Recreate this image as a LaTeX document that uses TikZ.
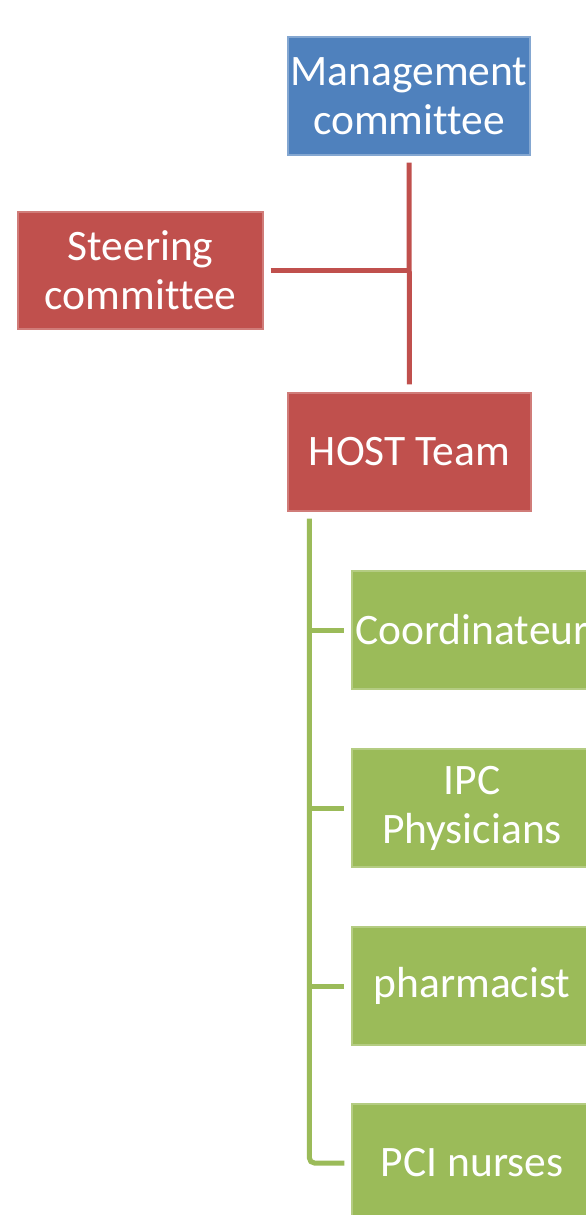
\documentclass[tikz,border=0pt]{standalone}
\usepackage{fontspec}
\setmainfont[Ligatures={NoCommon}]{Carlito}
\definecolor{mblue}{HTML}{4F81BD}
\definecolor{mred}{HTML}{C0504D}
\definecolor{mgreen}{HTML}{9BBB59}
\begin{document}
\begin{tikzpicture}[x=1pt,y=1pt,
  box/.style={rectangle, inner sep=0pt, align=center, text=white,
    font=\fontsize{43.5}{49}\selectfont, line width=1.2pt},
  bluebox/.style={box, fill=mblue, draw=mblue!70!white, minimum width=242pt, minimum height=118pt},
  redbox/.style={box, fill=mred, draw=mred!75!white, minimum width=243pt, minimum height=118pt},
  greenbox/.style={box, fill=mgreen, draw=mgreen!75!white, minimum width=240pt, minimum height=118pt},
  rline/.style={draw=mred, line width=5pt},
  gline/.style={draw=mgreen, line width=5pt}]
\useasboundingbox (0,0) rectangle (586,-1215);
\clip (0,0) rectangle (586,-1215);
\node[bluebox] (mgmt) at (409,-96) {Management\\committee};
\node[redbox, minimum width=245pt, minimum height=117pt] (steer) at (140.5,-270.5) {Steering\\committee};
\node[redbox] (host) at (409.5,-452) {HOST Team};
\node[greenbox] (coord) at (472,-630) {Coordinateur};
\node[greenbox] (ipc) at (472,-808) {IPC\\Physicians};
\node[greenbox] (pharm) at (472,-986) {pharmacist};
\node[greenbox] (pci) at (472,-1163) {PCI nurses};
% red connectors
\draw[rline, shorten <=7pt, shorten >=8pt] (mgmt.south) -- (host.north);
\coordinate (junction) at (mgmt.south |- steer.east);
\draw[rline, shorten <=7pt] (steer.east) -- (junction);
% green connectors
\coordinate (trunk) at ([xshift=22pt,yshift=-7pt]host.south west);
\draw[gline, rounded corners=5pt] (trunk) |- ([xshift=-7pt]pci.west);
\draw[gline] (trunk |- coord.west) -- ([xshift=-7pt]coord.west);
\draw[gline] (trunk |- ipc.west) -- ([xshift=-7pt]ipc.west);
\draw[gline] (trunk |- pharm.west) -- ([xshift=-7pt]pharm.west);
\end{tikzpicture}
\end{document}
